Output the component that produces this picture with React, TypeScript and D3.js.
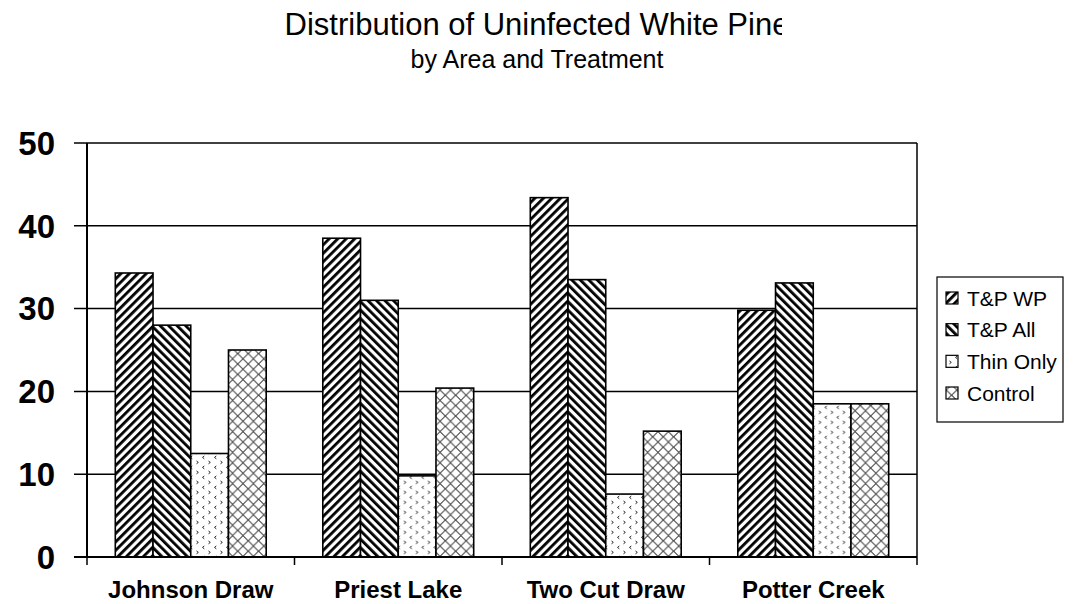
import React from "react";
import * as d3 from "d3";

const areas = ["Johnson Draw", "Priest Lake", "Two Cut Draw", "Potter Creek"];
const treatments = ["T&P WP", "T&P All", "Thin Only", "Control"];
const tpWp = [34.3, 38.5, 43.4, 29.8];
const tpAll = [28.0, 31.0, 33.5, 33.1];
const thinOnly = [12.5, 9.8, 7.6, 18.5];
const control = [25.0, 20.4, 15.2, 18.5];
const yTicks = [0, 10, 20, 30, 40, 50];

const seriesValues = [tpWp, tpAll, thinOnly, control];
const patternIds = ["pat-wp", "pat-all", "pat-thin", "pat-ctrl"];

const W = 1074;
const H = 604;
const margin = { left: 87, right: 157, top: 143, bottom: 47 };
const FONT = "'Liberation Sans', Arial, Helvetica, sans-serif";

export default function App() {
  const x = d3
    .scaleBand<string>()
    .domain(areas)
    .range([margin.left, W - margin.right])
    .paddingInner(0)
    .paddingOuter(0);
  // Excel-style 150% gap: bars fill 4 / 5.5 of each category
  const groupPad = (1.5 / 5.5) / 2;
  const xInner = d3
    .scaleBand<number>()
    .domain(d3.range(treatments.length))
    .range([x.bandwidth() * groupPad, x.bandwidth() * (1 - groupPad)])
    .padding(0);
  const y = d3
    .scaleLinear()
    .domain([0, 50])
    .range([H - margin.bottom, margin.top]);

  const x0 = margin.left;
  const x1 = W - margin.right;
  const yTop = y(50);
  const yBot = y(0);

  const legend = { x: 937, y: 277, w: 126, h: 145 };
  const legendRowY = d3
    .scalePoint<string>()
    .domain(treatments)
    .range([legend.y + 21, legend.y + 116]);

  const boundaries = d3.range(areas.length + 1).map((i) =>
    i < areas.length ? (x(areas[i]) as number) : x1
  );

  return (
    <div style={{ position: "absolute", left: 0, top: 0 }}>
      <svg width={W} height={H} style={{ display: "block", background: "#fff" }}>
        <defs>
          <pattern id="pat-wp" patternUnits="userSpaceOnUse" width="6" height="6" patternTransform="rotate(45)">
            <rect width="6" height="6" fill="#fff" />
            <rect width="2.8" height="6" fill="#000" />
          </pattern>
          <pattern id="pat-all" patternUnits="userSpaceOnUse" width="6" height="6" patternTransform="rotate(-45)">
            <rect width="6" height="6" fill="#fff" />
            <rect width="2.8" height="6" fill="#000" />
          </pattern>
          <pattern id="pat-thin" patternUnits="userSpaceOnUse" width="12" height="10">
            <rect width="12" height="10" fill="#fff" />
            <path d="M1.5,1 L3.3,2.4 L1.5,3.8" fill="none" stroke="#222" strokeWidth="1" />
            <path d="M9.3,6 L7.5,7.4 L9.3,8.8" fill="none" stroke="#222" strokeWidth="1" />
          </pattern>
          <pattern id="pat-ctrl" patternUnits="userSpaceOnUse" width="10.4" height="10.4">
            <rect width="10.4" height="10.4" fill="#fff" />
            <path
              d="M0,5.2 L5.2,0 L10.4,5.2 L5.2,10.4 Z"
              fill="none"
              stroke="#333"
              strokeWidth="1"
            />
          </pattern>
          <clipPath id="title-clip">
            <rect x={0} y={0} width={782} height={60} />
          </clipPath>
        </defs>

        {/* titles */}
        <text
          x={537}
          y={35}
          textAnchor="middle"
          fontFamily={FONT}
          fontSize={31}
          fill="#000"
          clipPath="url(#title-clip)"
        >
          Distribution of Uninfected White Pine
        </text>
        <text x={537} y={68} textAnchor="middle" fontFamily={FONT} fontSize={25} fill="#000">
          by Area and Treatment
        </text>

        {/* gridlines */}
        {yTicks.map((t) => (
          <line key={"g" + t} x1={x0 - 13} x2={x1} y1={y(t)} y2={y(t)} stroke="#000" strokeWidth={1.5} />
        ))}

        {/* bars */}
        {areas.map((a, i) => (
          <g key={a} transform={`translate(${x(a)},0)`}>
            {seriesValues.map((vals, s) => (
              <rect
                key={s}
                x={xInner(s)}
                y={y(vals[i])}
                width={xInner.bandwidth()}
                height={yBot - y(vals[i])}
                fill={`url(#${patternIds[s]})`}
                stroke="#000"
                strokeWidth={1.6}
              />
            ))}
          </g>
        ))}

        {/* plot frame */}
        <line x1={x0} x2={x0} y1={yTop} y2={yBot} stroke="#000" strokeWidth={2} />
        <line x1={x1} x2={x1} y1={yTop} y2={yBot} stroke="#000" strokeWidth={1.5} />
        <line x1={x0 - 13} x2={x1} y1={yBot} y2={yBot} stroke="#000" strokeWidth={2} />

        {/* category ticks */}
        {boundaries.map((bx, i) => (
          <line key={"t" + i} x1={bx} x2={bx} y1={yBot} y2={yBot + 8} stroke="#000" strokeWidth={1.5} />
        ))}

        {/* y labels */}
        {yTicks.map((t) => (
          <text
            key={"y" + t}
            x={55}
            y={y(t)}
            dy="0.36em"
            textAnchor="end"
            fontFamily={FONT}
            fontWeight="bold"
            fontSize={33}
            fill="#000"
          >
            {t}
          </text>
        ))}

        {/* x labels */}
        {areas.map((a) => (
          <text
            key={"x" + a}
            x={(x(a) as number) + x.bandwidth() / 2}
            y={598}
            textAnchor="middle"
            fontFamily={FONT}
            fontWeight="bold"
            fontSize={24}
            fill="#000"
          >
            {a}
          </text>
        ))}

        {/* legend */}
        <rect x={legend.x} y={legend.y} width={legend.w} height={legend.h} fill="#fff" stroke="#000" strokeWidth={1.2} />
        {treatments.map((t, s) => {
          const cy = legendRowY(t) as number;
          return (
            <g key={t}>
              <rect x={946} y={cy - 6} width={12} height={12} fill={`url(#${patternIds[s]})`} stroke="#000" strokeWidth={1.2} />
              <text x={967} y={cy} dy="0.36em" fontFamily={FONT} fontSize={21} fill="#000">
                {t}
              </text>
            </g>
          );
        })}
      </svg>
    </div>
  );
}
